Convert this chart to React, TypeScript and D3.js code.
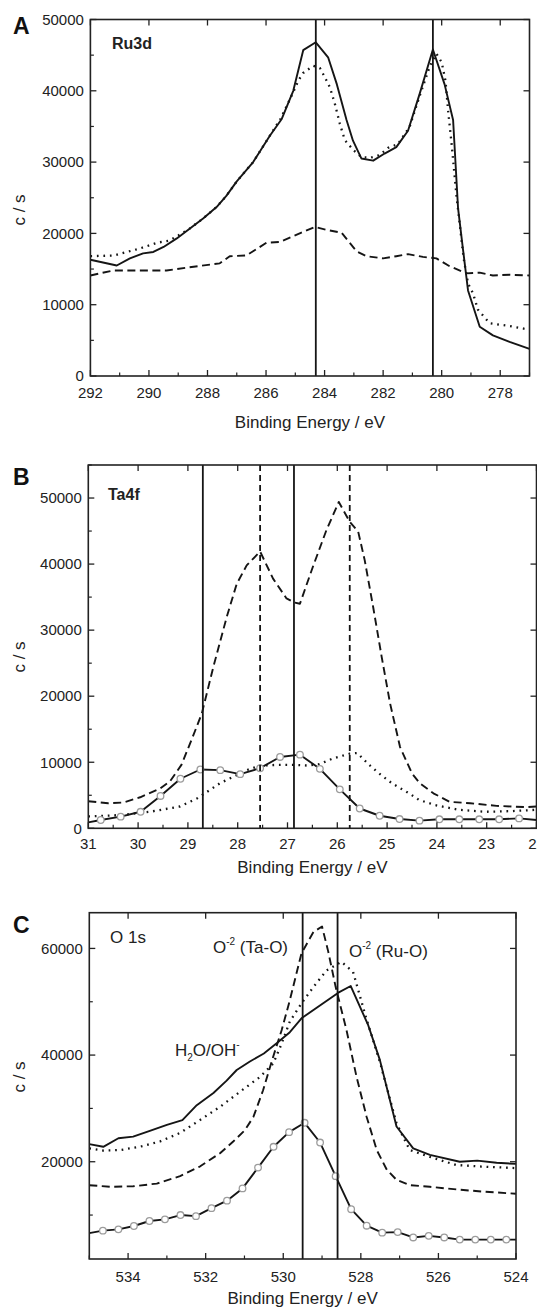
import React from "react";
import * as d3 from "d3";

type Pt = [number, number];

// ---------- Panel A : Ru3d ----------
const ruSolid: Pt[] = [
  [292, 16300], [291.1, 15500], [290.65, 16500], [290.2, 17200], [289.85, 17400],
  [289.5, 18100], [289.05, 19300], [288.6, 20700], [288.15, 22100], [287.69, 23700],
  [287.35, 25300], [287.0, 27300], [286.44, 30000], [285.87, 33700], [285.47, 36000],
  [285.07, 40000], [284.73, 45700], [284.3, 46800], [283.88, 44700], [283.58, 40900],
  [283.25, 35900], [283.03, 33000], [282.74, 30500], [282.34, 30200], [281.95, 31200],
  [281.55, 32100], [281.15, 34400], [280.75, 39600], [280.3, 45800], [279.9, 40900],
  [279.61, 35900], [279.44, 23500], [279.27, 17700], [279.1, 12000], [278.7, 6900],
  [278.25, 5700], [277.68, 4800], [277.0, 3800],
];
const ruDotted: Pt[] = [
  [292, 16800], [291.2, 16900], [290.3, 17900], [289.7, 18700], [289.3, 19000],
  [289.0, 19700], [288.6, 20700], [288.15, 22100], [287.69, 23700], [287.35, 25300],
  [287.0, 27300], [286.44, 30000], [285.87, 33700], [285.5, 36100], [285.07, 39800],
  [284.9, 41400], [284.73, 42500], [284.39, 43500], [284.16, 43200], [283.99, 41900],
  [283.82, 40500], [283.65, 38200], [283.48, 35400], [283.31, 33100], [283.02, 31700],
  [282.74, 30700], [282.45, 30600], [282.11, 31000], [281.83, 32000], [281.5, 32500],
  [281.1, 34900], [280.75, 39300], [280.4, 43500], [280.18, 45200], [280.0, 44000],
  [279.87, 41400], [279.78, 37200], [279.66, 32500], [279.49, 25100], [279.25, 16500],
  [279.1, 13000], [278.93, 11600], [278.76, 9300], [278.36, 7400], [277.68, 7000],
  [277.0, 6500],
];
const ruDashed: Pt[] = [
  [292, 14100], [291.22, 14800], [290.31, 14800], [289.4, 14800], [288.71, 15200],
  [287.58, 15800], [287.24, 16800], [286.67, 16900], [285.98, 18700], [285.53, 18800],
  [284.85, 20000], [284.33, 20900], [283.93, 20500], [283.42, 20100], [282.91, 17500],
  [282.57, 16800], [282.0, 16500], [281.55, 16800], [281.15, 17100], [280.64, 16700],
  [280.18, 16500], [279.73, 15400], [279.16, 14400], [278.7, 14500], [278.25, 14100],
  [277.68, 14200], [277.0, 14100],
];
const ruLines = [284.3, 280.3];
const ruXTicks = [292, 290, 288, 286, 284, 282, 280, 278];
const ruYTicks = [0, 10000, 20000, 30000, 40000, 50000];

// ---------- Panel B : Ta4f ----------
const taDashed: Pt[] = [
  [31, 4100], [30.6, 3800], [30.3, 3900], [29.96, 4700], [29.56, 6000], [29.36, 7100],
  [29.13, 9600], [28.9, 13900], [28.72, 17400], [28.49, 24400], [28.22, 32000],
  [28.02, 37000], [27.82, 39800], [27.55, 41900], [27.29, 37800], [27.02, 34800],
  [26.87, 34200], [26.75, 34000], [26.49, 39600], [26.22, 45100], [25.97, 49400],
  [25.75, 46400], [25.58, 44900], [25.45, 40600], [25.28, 33500], [25.11, 26000],
  [24.94, 18900], [24.74, 12300], [24.5, 8300], [24.34, 6800], [24.07, 5300],
  [23.74, 4000], [23.33, 3800], [22.8, 3400], [22.2, 3200], [22, 3300],
];
const taDotted: Pt[] = [
  [31, 1800], [30.36, 2000], [29.76, 2500], [29.16, 3300], [28.82, 4500], [28.62, 5500],
  [28.36, 6800], [28.09, 7800], [27.82, 8800], [27.55, 9500], [27.2, 9600], [26.87, 9600],
  [26.6, 9500], [26.36, 9700], [26.08, 10600], [25.75, 11300], [25.6, 11400],
  [25.36, 9600], [25.16, 8300], [24.9, 6800], [24.56, 5300], [24.36, 4300], [24.03, 3500],
  [23.56, 2800], [23.03, 2500], [22.5, 2600], [22, 2800],
];
// first and last entries are the line ends, the others carry open circles
const taOpen: Pt[] = [
  [31, 900], [30.75, 1260], [30.35, 1760], [29.95, 2500], [29.55, 4900], [29.15, 7500],
  [28.75, 8900], [28.35, 8800], [27.95, 8200], [27.55, 9100], [27.15, 10800],
  [26.75, 11150], [26.35, 9000], [25.95, 5900], [25.55, 3000], [25.15, 1900],
  [24.75, 1400], [24.35, 1160], [23.95, 1360], [23.55, 1360], [23.15, 1360],
  [22.75, 1360], [22.35, 1500], [22, 1260],
];
const taSolidLines = [28.7, 26.87];
const taDashedLines = [27.55, 25.75];
const taXTicks = [31, 30, 29, 28, 27, 26, 25, 24, 23, 22];
const taYTicks = [0, 10000, 20000, 30000, 40000, 50000];

// ---------- Panel C : O 1s ----------
const oSolid: Pt[] = [
  [535, 23300], [534.64, 22800], [534.25, 24400], [533.87, 24700], [533.44, 25800],
  [533.0, 26900], [532.6, 27800], [532.23, 30600], [531.8, 32900], [531.46, 35200],
  [531.2, 37200], [530.86, 38800], [530.5, 40300], [530.17, 42200], [529.83, 44300],
  [529.53, 46900], [528.58, 51700], [528.26, 52950], [527.81, 45600], [527.51, 39100],
  [527.08, 26600], [526.65, 22500], [526.22, 21300], [525.45, 20000], [525.0, 20200],
  [524.5, 19800], [524, 19600],
];
const oDotted: Pt[] = [
  [535, 22500], [534.64, 22100], [534.2, 22200], [533.7, 22800], [533.18, 23800],
  [532.66, 25400], [532.15, 27800], [531.63, 30300], [531.12, 33100], [530.6, 35900],
  [530.26, 38400], [530.05, 42000], [529.83, 46300], [529.53, 49700], [529.22, 52800],
  [528.88, 55900], [528.5, 57500], [528.2, 55600], [527.86, 46900], [527.5, 38500],
  [527.08, 27200], [526.74, 22200], [526.22, 20900], [525.55, 19400], [524.9, 19100],
  [524, 18800],
];
const oDashed: Pt[] = [
  [535, 15600], [534.47, 15300], [533.87, 15400], [533.26, 15900], [532.66, 17300],
  [532.15, 19100], [531.63, 21600], [531.29, 23800], [530.99, 25900], [530.77, 28400],
  [530.52, 33400], [530.26, 39700], [530.04, 44700], [529.83, 50300], [529.53, 59100],
  [529.22, 63100], [529.0, 64100], [528.84, 59400], [528.65, 52800], [528.37, 44700],
  [528.11, 35900], [527.85, 28400], [527.59, 22200], [527.33, 18500], [527.08, 16600],
  [526.74, 15600], [526.22, 15300], [525.53, 14800], [524.85, 14400], [524, 14000],
];
const oOpen: Pt[] = [
  [535, 6600], [534.65, 7080], [534.25, 7320], [533.85, 7950], [533.45, 8890],
  [533.05, 9200], [532.65, 10000], [532.25, 9800], [531.85, 11300], [531.45, 12700],
  [531.05, 15000], [530.65, 18900], [530.25, 22800], [529.85, 25550], [529.45, 27300],
  [529.05, 23600], [528.65, 17300], [528.25, 11100], [527.85, 8000], [527.45, 6700],
  [527.05, 6800], [526.65, 5800], [526.25, 6100], [525.85, 5800], [525.45, 5400],
  [525.05, 5400], [524.65, 5400], [524.25, 5400], [524, 5400],
];
const oSolidLines = [529.5, 528.6];
const oXTicks = [534, 532, 530, 528, 526, 524];
const oYTicks = [20000, 40000, 60000];

const FONT = "'Liberation Sans', Arial, Helvetica, sans-serif";
const INK = "#151515";

type Series = { data: Pt[]; kind: "solid" | "dashed" | "dotted" | "open" };

interface PanelProps {
  letter: string;
  label: React.ReactNode;
  left: number; right: number; top: number; bottom: number;
  xDomain: [number, number]; yDomain: [number, number];
  xTicks: number[]; xMinorStep: number;
  yTicks: number[]; yMinorStep: number;
  series: Series[];
  vSolid: number[]; vDashed: number[];
  xLabelY: number; titleY: number; yTitleY: number; letterY: number;
  extra?: React.ReactNode;
}

function Panel(p: PanelProps) {
  const x = d3.scaleLinear().domain(p.xDomain).range([p.left, p.right]);
  const y = d3.scaleLinear().domain(p.yDomain).range([p.bottom, p.top]);
  const line = d3.line<Pt>().x((d) => x(d[0])).y((d) => y(d[1]));
  const [xa, xb] = p.xDomain;
  const xLo = Math.min(xa, xb), xHi = Math.max(xa, xb);
  const xMinor = d3.range(Math.ceil(xLo / p.xMinorStep) * p.xMinorStep, xHi + 1e-9, p.xMinorStep)
    .filter((v) => !p.xTicks.some((t) => Math.abs(t - v) < 1e-6));
  const yMinor = d3.range(Math.ceil(p.yDomain[0] / p.yMinorStep) * p.yMinorStep, p.yDomain[1] + 1e-9, p.yMinorStep)
    .filter((v) => !p.yTicks.some((t) => Math.abs(t - v) < 1e-6));
  const M = 6, m = 3.5;
  const styleFor = (k: Series["kind"]) => {
    if (k === "dashed") return { strokeDasharray: "8 4.5", strokeWidth: 1.9 };
    if (k === "dotted") return { strokeDasharray: "1.7 4.8", strokeWidth: 2.3 };
    return { strokeDasharray: undefined, strokeWidth: 1.9 };
  };
  const cx = (p.left + p.right) / 2;
  return (
    <g>
      {p.series.map((s, i) => {
        const st = styleFor(s.kind);
        return (
          <path key={i} d={line(s.data) || ""} fill="none" stroke={INK}
            strokeWidth={st.strokeWidth} strokeDasharray={st.strokeDasharray}
            strokeLinejoin="round" />
        );
      })}
      {p.series.filter((s) => s.kind === "open").map((s, i) =>
        s.data.slice(1, -1).map((d, j) => (
          <circle key={`c${i}-${j}`} cx={x(d[0])} cy={y(d[1])} r={3.3}
            fill="#fff" stroke="#9c9c9c" strokeWidth={1.3} />
        ))
      )}
      {p.vSolid.map((v, i) => (
        <line key={`vs${i}`} x1={x(v)} x2={x(v)} y1={p.top} y2={p.bottom} stroke={INK} strokeWidth={1.8} />
      ))}
      {p.vDashed.map((v, i) => (
        <line key={`vd${i}`} x1={x(v)} x2={x(v)} y1={p.top} y2={p.bottom} stroke={INK}
          strokeWidth={1.8} strokeDasharray="6 4" />
      ))}
      <rect x={p.left} y={p.top} width={p.right - p.left} height={p.bottom - p.top}
        fill="none" stroke="#222" strokeWidth={1.6} />
      {p.xTicks.map((t) => (
        <g key={`xt${t}`}>
          <line x1={x(t)} x2={x(t)} y1={p.bottom} y2={p.bottom - M} stroke="#222" strokeWidth={1.3} />
          <line x1={x(t)} x2={x(t)} y1={p.top} y2={p.top + M} stroke="#222" strokeWidth={1.3} />
          <text x={x(t)} y={p.xLabelY} textAnchor="middle" fontSize={15} fill="#222">{t}</text>
        </g>
      ))}
      {xMinor.map((t) => (
        <line key={`xm${t}`} x1={x(t)} x2={x(t)} y1={p.bottom} y2={p.bottom - m} stroke="#222" strokeWidth={1.2} />
      ))}
      {p.yTicks.map((t) => (
        <g key={`yt${t}`}>
          <line x1={p.left} x2={p.left + M} y1={y(t)} y2={y(t)} stroke="#222" strokeWidth={1.3} />
          <line x1={p.right} x2={p.right - M} y1={y(t)} y2={y(t)} stroke="#222" strokeWidth={1.3} />
          <text x={p.left - 6.5} y={y(t) + 5.3} textAnchor="end" fontSize={15} fill="#222">{t}</text>
        </g>
      ))}
      {yMinor.map((t) => (
        <line key={`ym${t}`} x1={p.left} x2={p.left + m} y1={y(t)} y2={y(t)} stroke="#222" strokeWidth={1.2} />
      ))}
      <text x={cx} y={p.titleY} textAnchor="middle" fontSize={17} fill="#222">Binding Energy / eV</text>
      <text transform={`translate(25,${p.yTitleY}) rotate(-90)`} textAnchor="middle" fontSize={17} fill="#222">c / s</text>
      <text x={13} y={p.letterY} fontSize={23} fontWeight="bold" fill="#111">{p.letter}</text>
      {p.label}
      {p.extra}
    </g>
  );
}

export default function App() {
  return (
    <svg width={537} height={1309} viewBox="0 0 537 1309"
      style={{ position: "absolute", left: 0, top: 0, background: "#fff", fontFamily: FONT }}>
      <rect x={0} y={0} width={537} height={1309} fill="#fff" />
      <Panel
        letter="A"
        label={<text x={112} y={49} fontSize={16} fontWeight="bold" fill="#222">Ru3d</text>}
        left={90.4} right={529.5} top={19.5} bottom={376}
        xDomain={[292, 277]} yDomain={[0, 50000]}
        xTicks={ruXTicks} xMinorStep={1}
        yTicks={ruYTicks} yMinorStep={5000}
        series={[
          { data: ruDashed, kind: "dashed" },
          { data: ruDotted, kind: "dotted" },
          { data: ruSolid, kind: "solid" },
        ]}
        vSolid={ruLines} vDashed={[]}
        xLabelY={398} titleY={428} yTitleY={210} letterY={34}
      />
      <Panel
        letter="B"
        label={<text x={108} y={500} fontSize={16} fontWeight="bold" fill="#222">Ta4f</text>}
        left={88.3} right={536.5} top={465} bottom={828.3}
        xDomain={[31, 22]} yDomain={[0, 55000]}
        xTicks={taXTicks} xMinorStep={0.5}
        yTicks={taYTicks} yMinorStep={5000}
        series={[
          { data: taDashed, kind: "dashed" },
          { data: taDotted, kind: "dotted" },
          { data: taOpen, kind: "open" },
        ]}
        vSolid={taSolidLines} vDashed={taDashedLines}
        xLabelY={849} titleY={873} yTitleY={657} letterY={485}
      />
      <Panel
        letter="C"
        label={<text x={110} y={943} fontSize={17} fill="#222">O 1s</text>}
        left={89.3} right={516} top={912.7} bottom={1259}
        xDomain={[535, 524]} yDomain={[1760, 66700]}
        xTicks={oXTicks} xMinorStep={1}
        yTicks={oYTicks} yMinorStep={10000}
        series={[
          { data: oDashed, kind: "dashed" },
          { data: oDotted, kind: "dotted" },
          { data: oSolid, kind: "solid" },
          { data: oOpen, kind: "open" },
        ]}
        vSolid={oSolidLines} vDashed={[]}
        xLabelY={1282} titleY={1304} yTitleY={1077} letterY={933}
        extra={
          <g fontSize={17} fill="#222">
            <text x={213} y={953}>O<tspan fontSize={10} dy={-8}>-2</tspan><tspan dy={8}> (Ta-O)</tspan></text>
            <text x={349} y={957}>O<tspan fontSize={10} dy={-8}>-2</tspan><tspan dy={8}> (Ru-O)</tspan></text>
            <text x={175} y={1056}>H<tspan fontSize={10} dy={5}>2</tspan><tspan dy={-5}>O/OH</tspan><tspan fontSize={10} dy={-8}>-</tspan></text>
          </g>
        }
      />
    </svg>
  );
}
